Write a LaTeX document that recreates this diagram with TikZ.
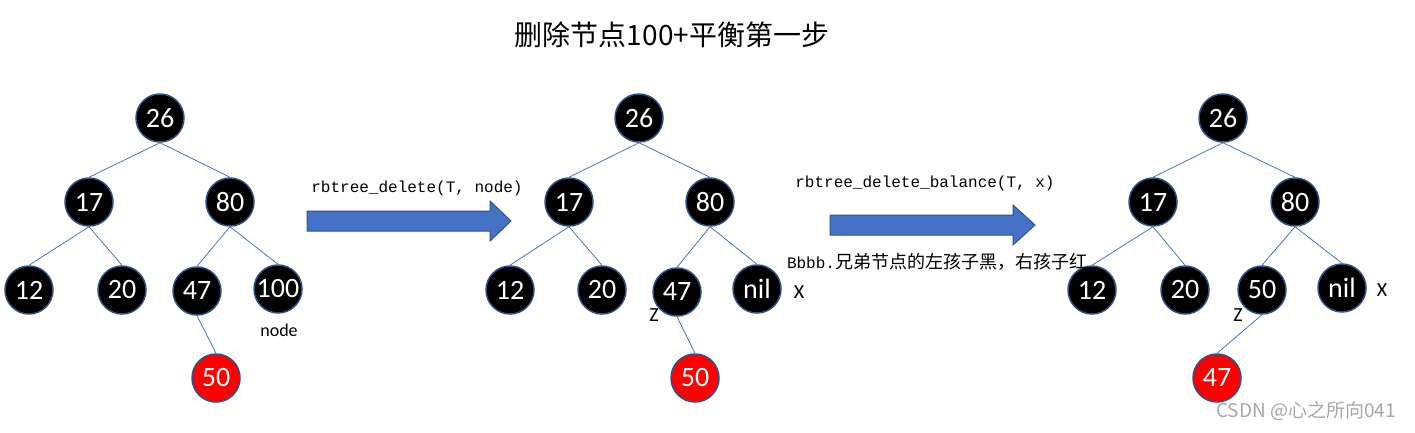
\documentclass[tikz,border=0pt]{standalone}
\usepackage{fontspec}
\setmainfont{Carlito}
\setmonofont{Liberation Mono}
\newfontfamily\cjk{Noto Sans CJK SC}
\definecolor{linkblue}{HTML}{4472C4}
\definecolor{rimblue}{HTML}{2F528F}

\begin{document}
\begin{tikzpicture}[x=1pt,y=-1pt,
  bnode/.style={circle, fill=black, draw=rimblue, line width=1.5pt,
    minimum size=48pt, inner sep=0pt, text=white,
    font=\fontsize{28}{28}\selectfont},
  rnode/.style={bnode, fill=red},
  link/.style={draw=linkblue, line width=0.8pt},
  bigarrow/.style={fill=linkblue, draw=rimblue, line width=1pt},
  tag/.style={font=\fontsize{20}{20}\selectfont},
  call/.style={font=\ttfamily\fontsize{16}{16}\selectfont}]
  \useasboundingbox (0,0) rectangle (1415,432);

  % title
  \node[font=\cjk\fontsize{28}{28}\selectfont] (title) at (672,35) {删除节点100+平衡第一步};

  % tree before deletion
  \foreach \n/\x/\y/\t in {26/160/118/26, 17/89/202/17, 80/230/202/80,
      12/29/290/12, 20/122/290/20, 47/197/291/47, 100/278/289/100} {
    \node[bnode] (a\n) at (\x,\y) {\t};
  }
  \node[rnode] (a50) at (216,378) {50};
  \foreach \p/\c in {26/17, 26/80, 17/12, 17/20, 80/47, 80/100, 47/50}
    \draw[link] (a\p.south) -- (a\c.north);
  \node[font=\fontsize{18}{18}\selectfont] (anode) at (279,330) {node};

  % tree after deletion
  \foreach \n/\x/\y/\t in {26/639/118/26, 17/569/202/17, 80/710/202/80,
      12/510/290/12, 20/602/290/20, 47/677/292/47, nil/757/289/nil} {
    \node[bnode] (b\n) at (\x,\y) {\t};
  }
  \node[rnode] (b50) at (695,378) {50};
  \foreach \p/\c in {26/17, 26/80, 17/12, 17/20, 80/47, 80/nil, 47/50}
    \draw[link] (b\p.south) -- (b\c.north);
  \node[tag] (bz) at (654,315) {Z};
  \node[tag] (bx) at (799,292) {X};

  % tree after first balance step
  \foreach \n/\x/\y/\t in {26/1223/118/26, 17/1153/202/17, 80/1295/202/80,
      12/1092/290/12, 20/1185/290/20, 50/1262/290/50, nil/1342/288/nil} {
    \node[bnode] (c\n) at (\x,\y) {\t};
  }
  \node[rnode] (c47) at (1217,378) {47};
  \foreach \p/\c in {26/17, 26/80, 17/12, 17/20, 80/50, 80/nil, 50/47}
    \draw[link] (c\p.south) -- (c\c.north);
  \node[tag] (cz) at (1238,315) {Z};
  \node[tag] (cx) at (1382,290) {X};

  % arrows between the steps
  \draw[bigarrow] (307,211) -- (490,211) -- (490,201) -- (511,221)
    -- (490,241) -- (490,231) -- (307,231) -- cycle;
  \node[call] (call1) at (417,188) {rbtree\_delete(T, node)};

  \draw[bigarrow] (830,215) -- (1013,215) -- (1013,205) -- (1035,225)
    -- (1013,245) -- (1013,235) -- (830,235) -- cycle;
  \node[call] (call2) at (925,183) {rbtree\_delete\_balance(T, x)};
  \node[call] (case) at (937,262) {Bbbb.{\cjk\fontsize{18}{18}\selectfont 兄弟节点的左孩子黑，右孩子红}};

  % watermark
  \node[text=gray!70, font=\cjk\fontsize{19}{19}\selectfont] (mark) at (1306,411) {CSDN @心之所向041};
\end{tikzpicture}
\end{document}
